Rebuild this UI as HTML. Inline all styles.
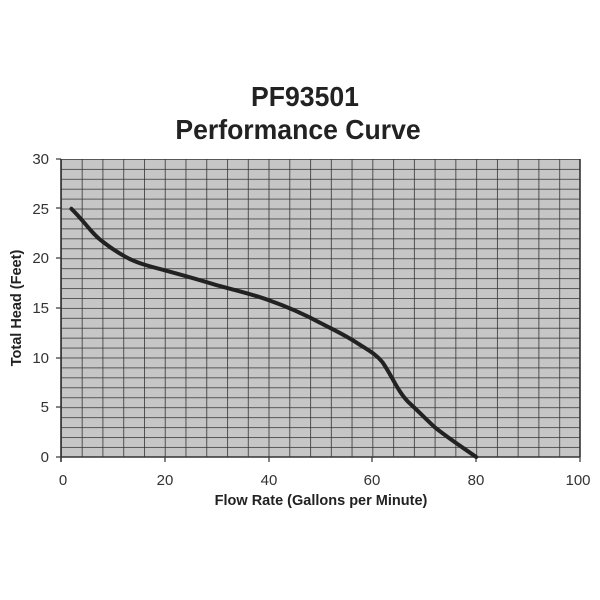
<!DOCTYPE html>
<html><head><style>body{margin:0;background:#fff}svg{display:block}</style></head><body>
<svg width="600" height="600" xmlns="http://www.w3.org/2000/svg" font-family="Liberation Sans, Arial, sans-serif">
<defs>
<pattern id="g" x="61" y="159" width="20.76" height="9.93" patternUnits="userSpaceOnUse">
<rect width="20.76" height="9.93" fill="#c6c6c6"/>
<line x1="0" y1="0" x2="20.76" y2="0" stroke="#333" stroke-width="1.6"/>
<line x1="0" y1="0" x2="0" y2="9.93" stroke="#333" stroke-width="1.6"/>
</pattern>
</defs>
<text x="305" y="106" text-anchor="middle" font-size="28" font-weight="bold" fill="#222" transform="translate(305 0) scale(0.95 1) translate(-305 0)" style="font-family:'Liberation Sans Narrow','Liberation Sans',sans-serif">PF93501</text>
<text x="298" y="139" text-anchor="middle" font-size="28" font-weight="bold" fill="#222" transform="translate(298 0) scale(0.95 1) translate(-298 0)" style="font-family:'Liberation Sans Narrow','Liberation Sans',sans-serif">Performance Curve</text>
<rect x="61" y="159" width="519" height="298" fill="url(#g)"/>
<line x1="580" y1="159" x2="580" y2="457" stroke="#333" stroke-width="1.6"/>
<line x1="61" y1="457" x2="580" y2="457" stroke="#333" stroke-width="1.6"/>
<line x1="61" y1="159" x2="61" y2="462" stroke="#333" stroke-width="1.6"/>
<g stroke="#333" stroke-width="1.2">
<line x1="165" y1="457" x2="165" y2="462"/><line x1="269" y1="457" x2="269" y2="462"/><line x1="372" y1="457" x2="372" y2="462"/><line x1="476" y1="457" x2="476" y2="462"/><line x1="580" y1="457" x2="580" y2="462"/>
<line x1="56" y1="159" x2="61" y2="159"/><line x1="56" y1="208" x2="61" y2="208"/><line x1="56" y1="258" x2="61" y2="258"/><line x1="56" y1="308" x2="61" y2="308"/><line x1="56" y1="358" x2="61" y2="358"/><line x1="56" y1="407" x2="61" y2="407"/><line x1="56" y1="457" x2="61" y2="457"/>
</g>
<g font-size="15" fill="#333" text-anchor="end">
<text x="49" y="164">30</text><text x="49" y="214">25</text><text x="49" y="263">20</text><text x="49" y="313">15</text><text x="49" y="363">10</text><text x="49" y="412">5</text><text x="49" y="462">0</text>
</g>
<g font-size="15" fill="#333" text-anchor="middle">
<text x="63" y="485">0</text><text x="165" y="485">20</text><text x="269" y="485">40</text><text x="372" y="485">60</text><text x="476" y="485">80</text><text x="578" y="485">100</text>
</g>
<text x="321" y="505" text-anchor="middle" font-size="14.5" font-weight="bold" fill="#222">Flow Rate (Gallons per Minute)</text>
<text transform="translate(21 308) rotate(-90)" text-anchor="middle" font-size="14.5" font-weight="bold" fill="#222">Total Head (Feet)</text>
<path d="M71.4,208.8 C85,222 92,234 102.5,241.5 C112,249 120,254 128.5,258.4 C140,264 152,267 164.8,270.3 C182,275 200,280 216.7,285.2 C234,290 252,294 268.6,300.1 C288,307 304,314 320.5,323 C334,330 345,335 356.8,342.8 C368,350 376,354 382.8,362.7 C392,376 398,392 408.7,402.4 C418,411 426,419 434.7,427.2 C448,438 462,447 476.2,457" fill="none" stroke="#222" stroke-width="4" stroke-linecap="round"/>
</svg>
</body></html>
